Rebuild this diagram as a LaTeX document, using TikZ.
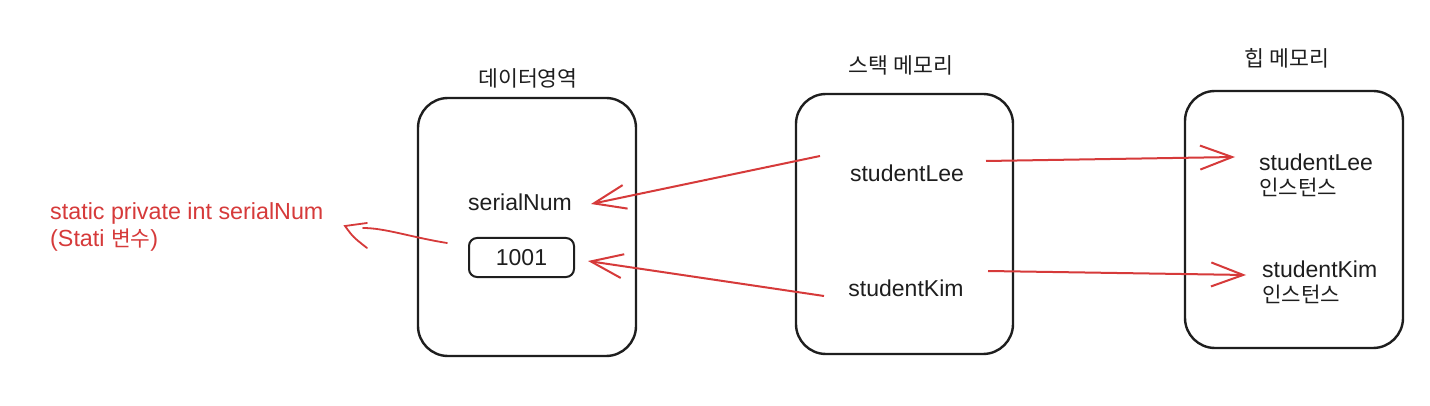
\documentclass[tikz,border=0pt]{standalone}
\usepackage{fontspec}
\setmainfont{Liberation Sans}
\newfontfamily\kr{Noto Sans CJK KR}[Scale=0.92]
\usetikzlibrary{arrows.meta}
\definecolor{ink}{HTML}{1E1E1E}
\definecolor{redink}{HTML}{D63A3A}
\begin{document}
\begin{tikzpicture}[x=1pt,y=-1pt,
  box/.style={draw=ink, line width=2.4pt, rounded corners=30pt, inner sep=0pt},
  valbox/.style={draw=ink, line width=2pt, rounded corners=8pt, minimum width=105pt, minimum height=39pt, inner sep=0pt, font=\fontsize{23}{25}\selectfont, text=ink},
  lbl/.style={font=\fontsize{23}{25}\selectfont, text=ink, inner sep=0pt},
  ttl/.style={font=\kr\fontsize{23.5}{25}\selectfont, text=ink, inner sep=0pt},
  ptr/.style={draw=redink, line width=2pt, -{Straight Barb[length=32pt,width=24pt]}},
  note/.style={font=\fontsize{23.3}{27}\selectfont, text=redink, align=left, inner sep=0pt},
  notepen/.style={draw=redink, line width=1.8pt, line cap=round}]
\fill[white] (0,0) rectangle (1430,406);
\useasboundingbox (0,0) rectangle (1430,406);

% boxes
\node[box, minimum width=218pt, minimum height=258pt] (data) at (527,227) {};
\node[box, minimum width=217pt, minimum height=260pt] (stack) at (904.5,224) {};
\node[box, minimum width=218pt, minimum height=257pt] (heap) at (1294,219.5) {};

% titles
\node[ttl] (tdata) at (528,78) {데이터영역};
\node[ttl] (tstack) at (901,65) {스택 메모리};
\node[ttl] (theap) at (1287,58) {힙 메모리};

% data contents
\node[lbl] (serial) at (520,202) {serialNum};
\node[valbox] (val) at (521.5,257.5) {1001};

% stack contents
\node[lbl] (slee) at (907,173) {studentLee};
\node[lbl] (skim) at (906,288) {studentKim};

% heap contents
\node[lbl, anchor=west, align=left] (hlee) at (1259,175) {studentLee\\{\kr 인스턴스}};
\node[lbl, anchor=west, align=left] (hkim) at (1262,282) {studentKim\\{\kr 인스턴스}};

% annotation
\node[note, anchor=west] (ann) at (50,227) {static private int serialNum\\({Stati \kr 변수})};

% connector coordinates
\coordinate (leeOut) at (986,161);
\coordinate (leeIn) at (1235,157);
\coordinate (kimOut) at (988,271);
\coordinate (kimIn) at (1246,275);
\coordinate (leeBack) at (820,156);
\coordinate (serialIn) at (591,204);
\coordinate (kimBack) at (824,296);
\coordinate (valIn) at (588,261);
\coordinate (annStart) at (447,243);
\coordinate (annEnd) at (363,228);
\coordinate (annTip) at (345,226);
\coordinate (annBarbA) at (367,223);
\coordinate (annBarbB) at (367,248);

\draw[ptr] (leeOut) -- (leeIn);
\draw[ptr] (kimOut) -- (kimIn);
\draw[ptr] (leeBack) -- (serialIn);
\draw[ptr] (kimBack) -- (valIn);

\draw[notepen] (annStart) .. controls (410,237) and (385,228) .. (annEnd);
\draw[notepen] (annBarbA) -- (annTip) .. controls (353,237) .. (annBarbB);
\end{tikzpicture}
\end{document}
